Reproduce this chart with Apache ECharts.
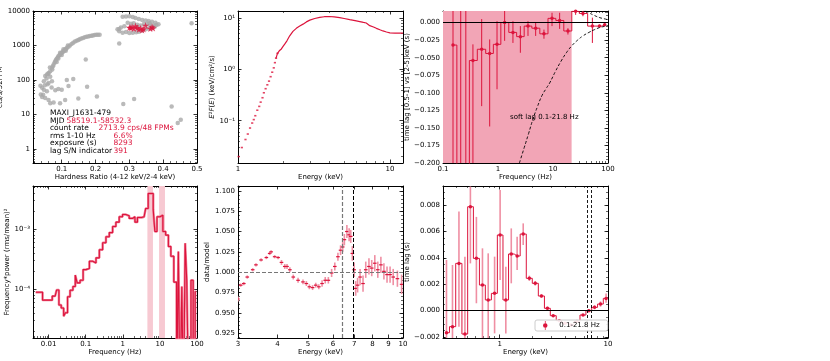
<!DOCTYPE html>
<html>
<head>
<meta charset="utf-8">
<script src="https://cdn.jsdelivr.net/npm/echarts@6/dist/echarts.min.js"></script>
<style>
  html, body { margin: 0; padding: 0; background: #fff; }
  #chart { width: 830px; height: 361px; }
</style>
</head>
<body>
<div id="chart"></div>
<script>
// ---- panel 1: hardness-intensity diagram
const hrGrey = [0.037,0.042,0.047,0.051,0.056,0.061,0.066,0.071,0.074,0.076,0.079,0.081,0.083,0.085,0.088,0.09,0.093,0.095,0.098,0.1,0.103,0.105,0.108,0.11,0.113,0.115,0.12,0.124,0.129,0.134,0.139,0.144,0.149,0.153,0.158,0.163,0.168,0.173,0.178,0.183,0.188,0.192,0.197,0.202,0.207,0.212,
  0.09,0.1,0.105,0.112,0.118,0.095,0.085,0.072,0.065,0.06,0.055,
  0.045,0.051,0.061,0.066,0.056,0.047,0.076,0.081,0.09,0.1,0.095,0.11,0.115,0.12,0.134,0.149,0.171,0.175,0.204,0.27,0.282,0.314,0.425,0.443,0.452,0.484,0.066,0.071,0.061,0.038,0.042,0.05,0.058,0.07,
  0.28,0.29,0.3,0.31,0.318,0.328,0.338,0.348,0.357,0.367,0.377,0.386,0.27,0.28,0.29,0.3,0.31,0.32,0.328,0.338,0.348,0.357,0.367,0.375,0.265,0.275,0.285,0.295,0.305,0.313,0.323,0.333,0.343,0.352,0.362,0.372,0.38,0.304,0.323,0.27,0.36];
const crGrey = [68,59,91,130,145,160,180,225,250,280,320,350,380,410,450,490,520,550,590,615,650,680,720,760,800,850,920,1000,1100,1200,1300,1380,1450,1520,1590,1660,1720,1780,1830,1870,1910,1950,2000,2040,2050,2040,
  420,530,780,700,1000,620,330,200,230,150,110,
  37,30,26,21,47,52,22,50,55,52,21,26,100,67,107,29,390,63,33,1150,20,28,17,5.6,7,4400,123,91,81,38,32,70,75,60,
  6800,6900,7000,6700,6300,5900,5500,5300,5100,4900,4600,4100,2600,2350,2450,2300,2350,2400,2500,2700,2950,3100,3250,3500,2950,3300,3600,4600,4300,4400,4000,3800,4200,4100,3900,3800,3900,3250,3450,3000,4400];
const hrStar = [0.300,0.304,0.308,0.313,0.318,0.323,0.328,0.333,0.338,0.342,0.348,0.362,0.367,0.370];
const crStar = [3300,3250,3450,3100,3650,3250,2950,3150,2800,3000,3800,3100,3450,3200];
const infoKeys = ['MAXI_J1631-479','MJD','count rate','rms 1-10 Hz','exposure (s)','lag S/N indicator'];
const infoVals = ['','58519.1-58532.3','2713.9 cps/48 FPMs','6.6%','8293','391'];

// ---- panel 2: unfolded spectrum
const specE = [1.01,1.06,1.12,1.16,1.20,1.24,1.27,1.30,1.34,1.38,1.41,1.45,1.48,1.52,1.56,1.60,1.64,1.68,1.72,1.75,1.78,1.82,1.87,1.93,1.98,2.03,2.1,2.19,2.3,2.42,2.55,2.68,2.82,2.97,3.2,3.45,3.7,4.0,4.3,4.67,5.0,5.44,5.9,6.34,6.7,6.99,7.37,7.8,8.15,8.6,9.0,9.5,10.0,10.8,11.6,12.2];
const specF = [0.020,0.030,0.043,0.055,0.072,0.090,0.105,0.125,0.16,0.19,0.23,0.28,0.35,0.42,0.50,0.59,0.72,0.88,1.07,1.35,1.65,2.05,2.3,2.5,2.8,3.1,3.6,4.5,5.5,6.3,7.0,7.6,8.4,9.1,9.8,10.3,10.6,10.7,10.5,10.2,9.8,9.3,8.9,8.5,8.2,8.0,7.1,6.7,6.3,5.9,5.6,5.35,5.15,5.1,5.1,5.1];

// ---- panel 3: lag-frequency
const lagF  = [0.152,0.21,0.26,0.35,0.505,0.706,0.96,1.32,1.87,2.55,3.51,4.84,6.85,9.6,13.2,18.7,25.8,35,52,70,87];
const lagV  = [-0.032,-0.30,-0.26,-0.054,-0.038,-0.044,-0.031,0.0,-0.014,-0.020,-0.005,-0.008,-0.016,0.006,0.003,-0.012,0.016,0.013,-0.005,-0.005,-0.003];
const lagLo = [-0.5,-0.6,-0.6,-0.3,-0.119,-0.148,-0.095,-0.026,-0.029,-0.043,-0.019,-0.019,-0.023,-0.005,-0.009,-0.017,0.011,0.009,-0.029,-0.007,-0.005];
const lagHi = [0.03,0.03,0.03,-0.031,0.005,-0.024,0.002,0.019,0.002,-0.005,0.002,0.0,-0.010,0.014,0.014,-0.008,0.019,0.017,0.007,-0.003,-0.001];
const limLoF = [2.45,3,3.6,4.3,5.2,6.3,7.5,8.7,11,14,17.5,22,28,35,45,57,71,85,100];
const limLoV = [-0.2,-0.178,-0.158,-0.138,-0.12,-0.104,-0.094,-0.086,-0.07,-0.055,-0.043,-0.033,-0.025,-0.019,-0.014,-0.010,-0.007,-0.0055,-0.004];
const limHiF = [28,35,45,57,71,85,100];
const limHiV = [0.025,0.019,0.014,0.010,0.007,0.0055,0.004];
const lagBand = [0.1, 21.8];

// ---- panel 4: power spectrum
const psdF = [0.0045,0.0105,0.015,0.018,0.020,0.024,0.027,0.030,0.035,0.041,0.050,0.055,0.063,0.079,0.092,0.113,0.140,0.171,0.210,0.259,0.317,0.39,0.48,0.59,0.72,0.89,1.09,1.34,1.65,2.02,2.24,2.75,3.75,4.57,5.13,6.31,6.92,7.71,9.06,11.2,12.9,15.8,18.2,21.4,26.3,30,33,37,41,46,50,56,64,74,84,95];
const psdP = [8.8e-5,6.5e-5,7.6e-5,9.6e-5,5.4e-5,4.8e-5,3.5e-5,4.0e-5,7.4e-5,9.5e-5,1.1e-4,1.7e-4,1.26e-4,1.4e-4,2.1e-4,2.2e-4,2.9e-4,2.7e-4,3.3e-4,4.5e-4,5.9e-4,7.4e-4,8.7e-4,1.1e-3,1.3e-3,1.6e-3,1.74e-3,1.66e-3,1.5e-3,1.6e-3,1.3e-3,1.55e-3,1.6e-3,2.2e-3,3.9e-3,3.9e-3,2.1e-3,9.1e-4,1.6e-3,1.7e-3,9.1e-4,7.9e-4,5.1e-4,3.5e-4,1.3e-4,1e-6,4.2e-4,1e-6,1.1e-4,1e-6,5.8e-4,1.4e-4,1e-6,1.4e-4,1e-6,9e-5];
const qpoBands = [[4.6, 6.5], [9.5, 13.7]];

// ---- panel 5: data/model ratio
const ratioE = [3.0,3.06,3.13,3.21,3.34,3.42,3.55,3.69,3.78,3.82,3.92,4.02,4.12,4.22,4.29,4.38,4.49,4.65,4.82,4.94,5.05,5.17,5.29,5.41,5.54,5.67,5.80,5.94,6.08,6.22,6.34,6.44,6.52,6.64,6.75,6.83,6.91,7.0,7.08,7.18,7.31,7.47,7.62,7.8,7.96,8.14,8.32,8.51,8.7,8.9,9.1,9.31,9.6,9.9];
const ratioV = [0.967,0.984,0.986,0.994,1.003,1.009,1.015,1.018,1.023,1.025,1.019,1.018,1.012,1.007,1.007,1.003,0.994,0.990,0.988,0.986,0.982,0.981,0.984,0.982,0.986,0.990,0.990,0.999,1.007,1.019,1.027,1.031,1.040,1.050,1.046,1.044,1.023,1.003,0.980,0.984,0.994,0.986,1.003,1.007,1.005,1.011,1.003,1.009,1.001,0.997,0.997,0.994,0.992,0.985];
const ratioErr = [0.003,0.002,0.002,0.002,0.002,0.002,0.002,0.002,0.002,0.002,0.002,0.002,0.003,0.003,0.003,0.003,0.003,0.003,0.003,0.003,0.003,0.003,0.003,0.003,0.004,0.004,0.004,0.005,0.005,0.005,0.006,0.006,0.007,0.008,0.008,0.008,0.009,0.009,0.009,0.009,0.010,0.010,0.010,0.010,0.010,0.010,0.010,0.010,0.010,0.010,0.010,0.010,0.010,0.012];
const feLines = [6.4, 6.97];

// ---- panel 6: lag-energy
const tlE  = [0.323,0.367,0.421,0.478,0.537,0.61,0.694,0.784,0.898,1.01,1.14,1.28,1.45,1.65,1.88,2.13,2.43,2.76,3.12,3.55,4.0,4.55,5.17,5.88,6.65,7.52,8.53,9.6];
const tlV  = [-0.00167,-0.00121,0.00358,-0.00177,0.00787,0.00396,0.00194,0.00081,0.00131,0.00573,0.00081,0.00429,0.00414,0.0058,0.00245,0.00207,0.00111,0.00018,-0.00038,-0.00076,-0.00096,-0.00109,-0.00083,-0.00033,0.0,0.00025,0.0005,0.00093];
const tlLo = [-0.005,-0.005,-0.00121,-0.005,0.00358,0.00056,-0.005,-0.005,-0.00172,0.00232,-0.00172,0.00207,0.00308,0.00497,0.00225,0.0019,0.00097,0.00005,-0.00046,-0.00083,-0.00102,-0.00118,-0.0009,-0.0004,-0.0001,0.0001,0.0003,0.0006];
const tlHi = [0.00384,0.00346,0.0075,0.00409,0.0094,0.0071,0.00472,0.00434,0.00409,0.00914,0.00333,0.00623,0.0056,0.00661,0.00265,0.00225,0.00125,0.0003,-0.0003,-0.0007,-0.0009,-0.001,-0.00075,-0.00025,0.0001,0.0004,0.0007,0.0013];

const RED = '#dc143c';
const PINK = '#ef8fa3';
const FONT = 'DejaVu Sans';

function logMinor(lo, hi) {
  const out = [];
  for (let d = -6; d <= 5; d++) {
    for (let m = 2; m <= 9; m++) {
      const v = +(m * Math.pow(10, d)).toPrecision(3);
      if (v >= lo && v <= hi) out.push(v);
    }
  }
  return out;
}
function linTicks(lo, hi, step) {
  const out = [];
  const n = Math.round((hi - lo) / step);
  for (let i = 0; i <= n; i++) out.push(+(lo + i * step).toFixed(6));
  return out;
}
function minus(d) {
  return v => (v < 0 ? '\u2212' : '') + Math.abs(v).toFixed(d);
}
function sup(v) {
  const e = Math.round(Math.log10(v));
  const map = {'-': '\u207b', '0': '\u2070', '1': '\u00b9', '2': '\u00b2', '3': '\u00b3', '4': '\u2074', '5': '\u2075'};
  return '10' + String(e).split('').map(c => map[c]).join('');
}

const xAxes = [], yAxes = [];
function addAxis(list, g, o, sides) {
  const first = list.length;
  sides.forEach((pos, k) => {
    list.push({
      type: o.type, gridIndex: g, min: o.min, max: o.max, position: pos,
      name: k === 0 ? o.name : '', nameLocation: 'middle', nameGap: o.nameGap,
      nameTextStyle: { fontSize: 7, color: '#000', fontFamily: FONT, rich: { i: { fontStyle: 'italic', fontSize: 7 } } },
      axisLine: { show: true, onZero: false, lineStyle: { color: '#000', width: 1 } },
      axisTick: { show: true, inside: true, length: 3.5, customValues: o.major, lineStyle: { color: '#000', width: 0.8 } },
      axisLabel: { show: k === 0, customValues: o.major, formatter: o.fmt, fontSize: 7, margin: 3, color: '#000', fontFamily: FONT },
      splitLine: { show: false }
    });
    if (o.minor) {
      list.push({
        type: o.type, gridIndex: g, min: o.min, max: o.max, position: pos,
        axisLine: { show: false, onZero: false },
        axisTick: { show: true, inside: true, length: 2, customValues: o.minor, lineStyle: { color: '#000', width: 0.6 } },
        axisLabel: { show: false },
        splitLine: { show: false }
      });
    }
  });
  return first;
}
function panel(g, xo, yo) {
  return { xAxisIndex: addAxis(xAxes, g, xo, ['bottom', 'top']), yAxisIndex: addAxis(yAxes, g, yo, ['left', 'right']) };
}

const grids = [
  { left: 33, top: 11, width: 164, height: 152 },
  { left: 238, top: 11, width: 165, height: 152 },
  { left: 443, top: 11, width: 165, height: 152 },
  { left: 33, top: 186, width: 164, height: 152 },
  { left: 238, top: 186, width: 165, height: 152 },
  { left: 443, top: 186, width: 165, height: 152 }
].map(g => Object.assign(g, { outerBoundsMode: 'none' }));

const p1 = panel(0,
  { type: 'value', min: 0.015, max: 0.5, major: [0.1, 0.2, 0.3, 0.4, 0.5], minor: linTicks(0.02, 0.48, 0.02).filter(v => Math.abs(v * 10 - Math.round(v * 10)) > 1e-6), fmt: v => v.toFixed(1), name: 'Hardness Ratio (4-12 keV/2-4 keV)', nameGap: 10 },
  { type: 'log', min: 0.39, max: 10000, major: [1, 10, 100, 1000, 10000], minor: logMinor(0.39, 10000), fmt: v => String(v), name: 'cts/s/52FPM', nameGap: 26 });
const p2 = panel(1,
  { type: 'log', min: 1, max: 12.2, major: [1, 10], minor: logMinor(1, 12.2), fmt: v => String(v), name: 'Energy (keV)', nameGap: 10 },
  { type: 'log', min: 0.015, max: 13.7, major: [0.1, 1, 10], minor: logMinor(0.015, 13.7), fmt: sup, name: '{i|E}\u00b2{i|F}({i|E}) (keV/cm\u00b2/s)', nameGap: 18 });
const p3 = panel(2,
  { type: 'log', min: 0.1, max: 100, major: [0.1, 1, 10, 100], minor: logMinor(0.1, 100), fmt: v => String(v), name: 'Frequency (Hz)', nameGap: 10 },
  { type: 'value', min: -0.2, max: 0.0165, major: linTicks(-0.2, 0, 0.025), minor: linTicks(-0.2, 0.015, 0.005), fmt: minus(3), name: 'time lag [0.5-1] vs [2-5]keV (s)', nameGap: 32 });
const p4 = panel(3,
  { type: 'log', min: 0.0038, max: 100, major: [0.01, 0.1, 1, 10, 100], minor: logMinor(0.0038, 100), fmt: v => String(v), name: 'Frequency (Hz)', nameGap: 11 },
  { type: 'log', min: 1.52e-5, max: 0.00521, major: [1e-4, 1e-3], minor: logMinor(1.52e-5, 0.00521), fmt: sup, name: 'Frequency*power (rms/mean)\u00b2', nameGap: 18 });
const p5 = panel(4,
  { type: 'log', min: 3, max: 10, major: [3, 4, 5, 6, 7, 8, 9, 10], fmt: v => String(v), name: 'Energy (keV)', nameGap: 11 },
  { type: 'value', min: 0.919, max: 1.106, major: linTicks(0.925, 1.1, 0.025), minor: linTicks(0.92, 1.105, 0.005), fmt: v => v.toFixed(3), name: 'data/model', nameGap: 22 });
const p6 = panel(5,
  { type: 'log', min: 0.3, max: 10, major: [1, 10], minor: logMinor(0.3, 10), fmt: v => String(v), name: 'Energy (keV)', nameGap: 11 },
  { type: 'value', min: -0.00207, max: 0.00944, major: linTicks(-0.002, 0.008, 0.002), minor: linTicks(-0.002, 0.009, 0.0005), fmt: minus(3), name: 'time lag (s)', nameGap: 27 });

function errSeries(p, data, color, width, cap) {
  return Object.assign({
    type: 'custom', clip: true, silent: true, z: 3,
    data: data,
    renderItem: function (params, api) {
      const x = api.value(0);
      const a = api.coord([x, api.value(1)]);
      const b = api.coord([x, api.value(2)]);
      const children = [{ type: 'line', shape: { x1: a[0], y1: a[1], x2: b[0], y2: b[1] }, style: { stroke: color, lineWidth: width } }];
      if (cap) {
        const m = api.coord([x, api.value(3)]);
        children.push({ type: 'line', shape: { x1: m[0] - 1.8, y1: m[1], x2: m[0] + 1.8, y2: m[1] }, style: { stroke: RED, lineWidth: 1.2 } });
      }
      return { type: 'group', children: children };
    }
  }, p);
}

const series = [
  // panel 1
  Object.assign({ type: 'scatter', data: hrGrey.map((h, i) => [h, crGrey[i]]), symbolSize: 4.5, itemStyle: { color: '#a9a9a9' }, silent: true }, p1),
  Object.assign({ type: 'scatter', data: hrStar.map((h, i) => [h, crStar[i]]), symbol: 'path://M50,0 L61,35 L98,35 L68,57 L79,91 L50,70 L21,91 L32,57 L2,35 L39,35 Z', symbolSize: 7, itemStyle: { color: RED }, silent: true, z: 4 }, p1),
  // panel 2
  Object.assign({ type: 'scatter', data: specE.map((e, i) => [e, specF[i]]).filter(d => d[0] <= 1.82), symbol: 'rect', symbolSize: [2.2, 1.6], itemStyle: { color: RED }, silent: true }, p2),
  Object.assign({ type: 'line', data: specE.map((e, i) => [e, specF[i]]).filter(d => d[0] >= 1.78), showSymbol: false, lineStyle: { color: RED, width: 1.2 }, silent: true }, p2),
  // panel 3
  Object.assign({ type: 'line', data: [], silent: true, z: 1,
    markArea: { silent: true, itemStyle: { color: '#f2a5b6' }, data: [[{ xAxis: lagBand[0] }, { xAxis: lagBand[1] }]] },
    markLine: { silent: true, symbol: 'none', label: { show: false }, lineStyle: { color: '#000', width: 1, type: 'solid' }, data: [{ yAxis: 0 }] } }, p3),
  errSeries(p3, lagF.map((f, i) => [f, lagLo[i], lagHi[i]]), RED, 1, false),
  Object.assign({ type: 'line', step: 'middle', data: lagF.map((f, i) => [f, lagV[i]]), symbol: 'circle', symbolSize: 3.5, itemStyle: { color: RED }, lineStyle: { color: RED, width: 1 }, silent: true, z: 4 }, p3),
  Object.assign({ type: 'line', smooth: true, data: limLoF.map((f, i) => [f, limLoV[i]]), showSymbol: false, lineStyle: { color: '#000', width: 0.9, type: [3, 2] }, silent: true, z: 5 }, p3),
  Object.assign({ type: 'line', smooth: true, data: limHiF.map((f, i) => [f, limHiV[i]]), showSymbol: false, lineStyle: { color: '#000', width: 0.9, type: [3, 2] }, silent: true, z: 5 }, p3),
  // panel 4
  Object.assign({ type: 'line', data: [], silent: true, z: 1,
    markArea: { silent: true, itemStyle: { color: '#f7c9d2' }, data: qpoBands.map(b => [{ xAxis: b[0] }, { xAxis: b[1] }]) } }, p4),
  Object.assign({ type: 'line', step: 'middle', data: psdF.map((f, i) => [f, psdP[i]]), showSymbol: false, lineStyle: { color: '#f07f97', width: 2.4 }, silent: true }, p4),
  Object.assign({ type: 'line', step: 'middle', data: psdF.map((f, i) => [f, psdP[i]]), showSymbol: false, lineStyle: { color: RED, width: 1.1 }, silent: true, z: 4 }, p4),
  // panel 5
  Object.assign({ type: 'line', data: [], silent: true,
    markLine: { silent: true, symbol: 'none', label: { show: false },
      data: [
        { yAxis: 1.0, lineStyle: { color: '#777', width: 1.2, type: [4, 2] } },
        { xAxis: feLines[0], lineStyle: { color: '#777', width: 1.2, type: [4, 2] } },
        { xAxis: feLines[1], lineStyle: { color: '#000', width: 1, type: [4, 2] } }
      ] } }, p5),
  errSeries(p5, ratioE.map((e, i) => [e, ratioV[i] - ratioErr[i], ratioV[i] + ratioErr[i], ratioV[i]]), PINK, 1.6, true),
  // panel 6
  Object.assign({ type: 'line', data: [], silent: true,
    markLine: { silent: true, symbol: 'none', label: { show: false },
      data: [
        { yAxis: 0, lineStyle: { color: '#000', width: 1, type: 'solid' } },
        { xAxis: feLines[0], lineStyle: { color: '#000', width: 0.9, type: [3, 2] } },
        { xAxis: feLines[1], lineStyle: { color: '#000', width: 0.9, type: [3, 2] } }
      ] } }, p6),
  errSeries(p6, tlE.map((e, i) => [e, tlLo[i], tlHi[i]]), PINK, 1.6, false),
  Object.assign({ name: '0.1-21.8 Hz', type: 'line', step: 'middle', data: tlE.map((e, i) => [e, tlV[i]]), symbol: 'circle', symbolSize: 3.5, itemStyle: { color: RED }, lineStyle: { color: RED, width: 1 }, silent: true, z: 4 }, p6)
];

const graphics = [];
infoKeys.forEach((k, i) => {
  graphics.push({ type: 'text', x: 50, y: 113.3 + i * 7.5, z: 100, silent: true, style: { text: k, fill: '#000', font: '7.5px "DejaVu Sans"', verticalAlign: 'middle' } });
});
const valX = [0, 66.5, 98.5, 113.5, 113.5, 113.5];
infoVals.forEach((v, i) => {
  if (!v) return;
  graphics.push({ type: 'text', x: valX[i], y: 113.3 + i * 7.5, z: 100, silent: true, style: { text: v, fill: RED, font: '7.5px "DejaVu Sans"', verticalAlign: 'middle' } });
});
graphics.push({ type: 'text', x: 510, y: 117.5, z: 100, silent: true, style: { text: 'soft lag 0.1-21.8 Hz', fill: '#000', font: '7px "DejaVu Sans"', verticalAlign: 'middle' } });

const chart = echarts.init(document.getElementById('chart'), null, { renderer: 'canvas' });
chart.setOption({
  animation: false,
  backgroundColor: '#fff',
  textStyle: { fontFamily: FONT },
  grid: grids,
  xAxis: xAxes,
  yAxis: yAxes,
  legend: {
    data: ['0.1-21.8 Hz'], left: 535, top: 320, orient: 'horizontal', z: 20,
    icon: 'path://M4.6,0 H5.4 V10 H4.6 Z M7.5,5 A2.5,2.5 0 1 1 2.5,5 A2.5,2.5 0 1 1 7.5,5 Z',
    itemWidth: 6, itemHeight: 9, itemGap: 4,
    padding: [1, 8, 1, 8], borderColor: '#ccc', borderWidth: 1, borderRadius: 2,
    backgroundColor: 'rgba(255,255,255,0.9)', selectedMode: false,
    textStyle: { fontSize: 7, color: '#000', fontFamily: FONT, padding: [0, 0, 0, 6] }
  },
  graphic: graphics,
  series: series
});
</script>
</body>
</html>
